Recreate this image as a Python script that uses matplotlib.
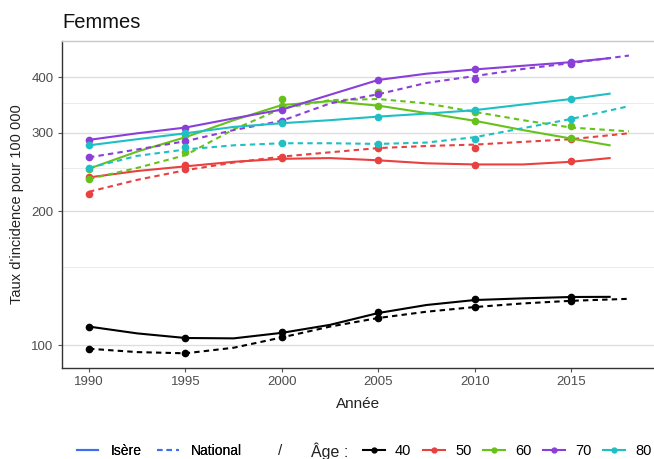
import matplotlib
matplotlib.use("Agg")
import matplotlib.pyplot as plt
from matplotlib.lines import Line2D
from matplotlib.ticker import FixedLocator, NullFormatter

plt.rcParams["font.family"] = ["Liberation Sans", "DejaVu Sans"]

# ---- data -------------------------------------------------------------
ages = ["40", "50", "60", "70", "80"]
colors = ["#000000", "#E8413F", "#66C21A", "#8A3FD9", "#1FBFC4"]

years = [1990, 1995, 2000, 2005, 2010, 2015]
# smoothed curves
curve_x_isere = [1990, 1992.5, 1995, 1997.5, 2000, 2002.5, 2005, 2007.5, 2010, 2012.5, 2015, 2017]
curve_x_nat = [1990, 1992.5, 1995, 1997.5, 2000, 2002.5, 2005, 2007.5, 2010, 2012.5, 2015, 2018]

pts_isere = {
    "40": [110, 103.7, 107, 118.4, 126.7, 128],
    "50": [239, 254, 263, 261, 254, 259],
    "60": [249, 296, 357, 345, 319, 292],
    "70": [289, 308, 338, 394, 416, 433],
    "80": [281, 300, 315, 326, 337, 357],
}
pts_nat = {
    "40": [98.1, 95.8, 104.1, 114.8, 121.7, 125.6],
    "50": [218, 248, 264, 277, 277, 290],
    "60": [236, 271, 345, 371, 334, 310],
    "70": [264, 287, 319, 366, 396, 428],
    "80": [250, 279, 284, 283, 291, 322],
}
curve_isere = {
    "40": [110, 106.2, 103.7, 103.5, 106.5, 111, 118, 123, 126.2, 127.3, 128.2, 128.3],
    "50": [238, 246, 252, 258, 262, 263, 260, 256, 254.5, 254.5, 258, 263],
    "60": [249, 272, 293, 320, 346, 353, 345, 332, 319, 304, 291, 281],
    "70": [289, 299, 308, 323, 338, 365, 394, 407, 416, 424, 432, 441],
    "80": [281, 290, 299, 309, 315, 320, 326, 331, 337, 347, 357, 367],
}
curve_nat = {
    "40": [98.1, 96.4, 95.8, 98.6, 104, 110, 115, 118.8, 121.7, 124, 125.7, 127],
    "50": [221, 235, 247, 257, 265, 271, 277, 280, 282, 286, 290, 299],
    "60": [236, 250, 267, 305, 340, 355, 357, 349, 334, 320, 308, 302],
    "70": [264, 275, 287, 304, 319, 349, 366, 388, 402, 417, 430, 447],
    "80": [250, 266, 275, 281, 284, 284, 283, 285, 293, 307, 322, 344],
}

x_ticks = [1990, 1995, 2000, 2005, 2010, 2015]
y_ticks = [100, 200, 300, 400]
y_minor = [150, 250, 350]

# ---- figure -----------------------------------------------------------
fig = plt.figure(figsize=(6.54, 4.59), dpi=100)
ax = fig.add_axes([0.0948, 0.1983, 0.9052, 0.7124])
ax.set_yscale("log")

LW = 1.5
DASH = (0, (2.6, 2.0))
for age, col in zip(ages, colors):
    ax.plot(curve_x_isere, curve_isere[age], color=col, lw=LW, zorder=3)
    ax.plot(curve_x_nat, curve_nat[age], color=col, lw=LW, ls=DASH, zorder=3)
    ax.plot(years, pts_isere[age], "o", color=col, ms=4.5, zorder=4)
    ax.plot(years, pts_nat[age], "o", color=col, ms=4.5, zorder=4)

ax.set_xlim(1988.6, 2019.3)
ax.set_ylim(88.8, 482)
ax.xaxis.set_major_locator(FixedLocator(x_ticks))
ax.yaxis.set_major_locator(FixedLocator(y_ticks))
ax.yaxis.set_minor_locator(FixedLocator(y_minor))
ax.yaxis.set_minor_formatter(NullFormatter())
ax.set_yticklabels([str(v) for v in y_ticks])

ax.grid(axis="y", which="major", color="#DCDCDC", lw=0.9, zorder=0)
ax.grid(axis="y", which="minor", color="#EBEBEB", lw=0.7, zorder=0)
ax.set_axisbelow(True)

for s in ["left", "bottom"]:
    ax.spines[s].set_color("#333333")
    ax.spines[s].set_linewidth(1.0)
ax.spines["top"].set_color("#C8C8C8")
ax.spines["top"].set_linewidth(1.0)
ax.spines["right"].set_visible(False)

ax.tick_params(axis="both", which="major", length=3, color="#555555",
               labelsize=9.5, labelcolor="#4D4D4D", pad=3)
ax.tick_params(axis="y", which="minor", length=0)

ax.set_xlabel("Année", fontsize=11, color="#222222", labelpad=6)
ax.set_ylabel("Taux d'incidence pour 100 000", fontsize=10.5, color="#222222", labelpad=5)
fig.text(0.0948, 0.952, "Femmes", fontsize=14.5, ha="left", va="center", color="#111111")

# ---- legends ----------------------------------------------------------
blue = "#3D6FF0"
LEG_Y = 0.0174
h1 = [Line2D([0], [0], color=blue, lw=LW),
      Line2D([0], [0], color=blue, lw=LW, ls=DASH)]
leg1 = fig.legend(h1, ["Isère", "National"], loc="center left",
                  bbox_to_anchor=(0.1173, LEG_Y), ncol=2, frameon=False,
                  fontsize=10, handlelength=1.55, handletextpad=0.9,
                  columnspacing=1.1, borderaxespad=0, borderpad=0)
fig.add_artist(leg1)
fig.text(0.428, LEG_Y, "/", fontsize=11, ha="center", va="center", color="#222222")
fig.text(0.475, LEG_Y, "Âge :", fontsize=11.5, ha="left", va="center", color="#222222")

h2 = [Line2D([0], [0], color=c, lw=LW, marker="o", ms=3.5) for c in colors]
fig.legend(h2, ages, loc="center left", bbox_to_anchor=(0.555, LEG_Y), ncol=5,
           frameon=False, fontsize=10.5, handlelength=1.5, handletextpad=0.7,
           columnspacing=0.8, borderaxespad=0, borderpad=0)

fig.savefig("out.png", dpi=100)
